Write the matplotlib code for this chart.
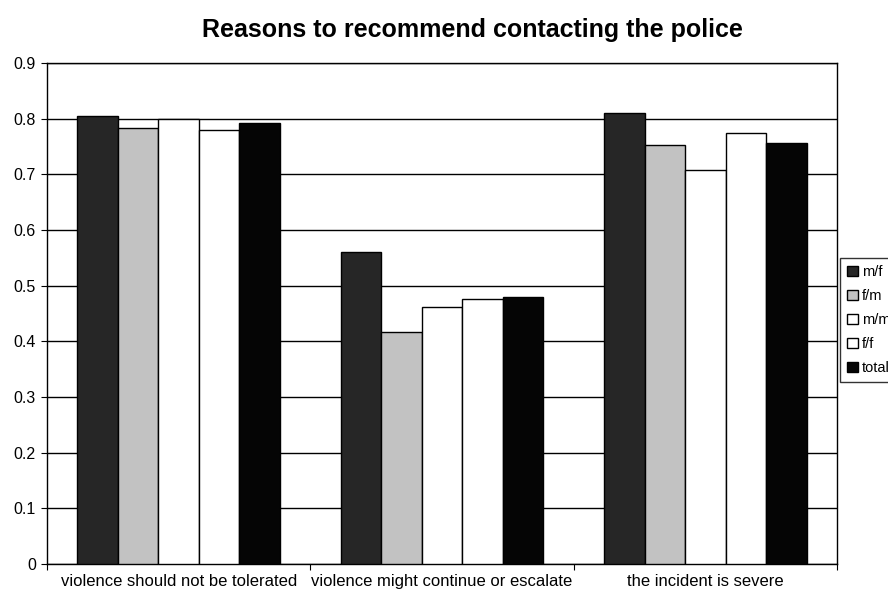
import matplotlib
matplotlib.use("Agg")
import matplotlib.pyplot as plt
import numpy as np

categories = ["violence should not be tolerated", "violence might continue or escalate", "the incident is severe"]
series_names = ["m/f", "f/m", "m/m", "f/f", "total"]
mf = [0.805, 0.560, 0.810]
fm = [0.783, 0.416, 0.753]
mm = [0.799, 0.461, 0.708]
ff = [0.780, 0.476, 0.774]
total = [0.792, 0.480, 0.756]
yticks = [0, 0.1, 0.2, 0.3, 0.4, 0.5, 0.6, 0.7, 0.8, 0.9]
ytick_labels = ["0", "0.1", "0.2", "0.3", "0.4", "0.5", "0.6", "0.7", "0.8", "0.9"]

series = [mf, fm, mm, ff, total]
colors = ["#262626", "#c2c2c2", "#ffffff", "#ffffff", "#050505"]

plt.rcParams['font.family'] = ['Liberation Sans', 'DejaVu Sans']

fig = plt.figure(figsize=(8.88, 5.94), dpi=100)
ax = fig.add_axes([47/888, 1-564/594, (837-47)/888, (564-63)/594])

n = len(series)
w = 1/6.5
x = np.arange(len(categories)) + 0.5
for i, (vals, c) in enumerate(zip(series, colors)):
    ax.bar(x + (i - (n-1)/2) * w, vals, width=w, color=c, edgecolor="black",
           linewidth=1.0, label=series_names[i], zorder=3)

ax.set_xlim(0, len(categories))
ax.set_ylim(0, 0.9)
ax.set_yticks(yticks)
ax.set_yticklabels(ytick_labels, fontsize=11.5)
ax.set_xticks(np.arange(len(categories)+1))
ax.set_xticklabels([])
ax.set_xticks(x, minor=True)
ax.set_xticklabels(categories, minor=True, fontsize=12)
ax.tick_params(axis='x', which='minor', length=0, pad=7)
ax.tick_params(axis='x', which='major', length=4, direction='out')
ax.tick_params(axis='y', length=4, direction='out', pad=4)
ax.yaxis.grid(True, color="black", linewidth=1.0, zorder=0)
ax.set_axisbelow(True)
for s in ax.spines.values():
    s.set_linewidth(1.0)
    s.set_color("black")

fig.text(472/888, 1-30/594, "Reasons to recommend contacting the police",
         ha="center", va="center", fontsize=18, fontweight="bold")

leg = fig.legend(loc="upper left", bbox_to_anchor=(840/888, 1-258/594),
                 frameon=True, fancybox=False, edgecolor="black", fontsize=10.5,
                 handlelength=0.7, handleheight=0.7, handletextpad=0.3,
                 labelspacing=0.68, borderpad=0.5, borderaxespad=0)
leg.get_frame().set_linewidth(1.0)

fig.savefig("out.png", dpi=100)
